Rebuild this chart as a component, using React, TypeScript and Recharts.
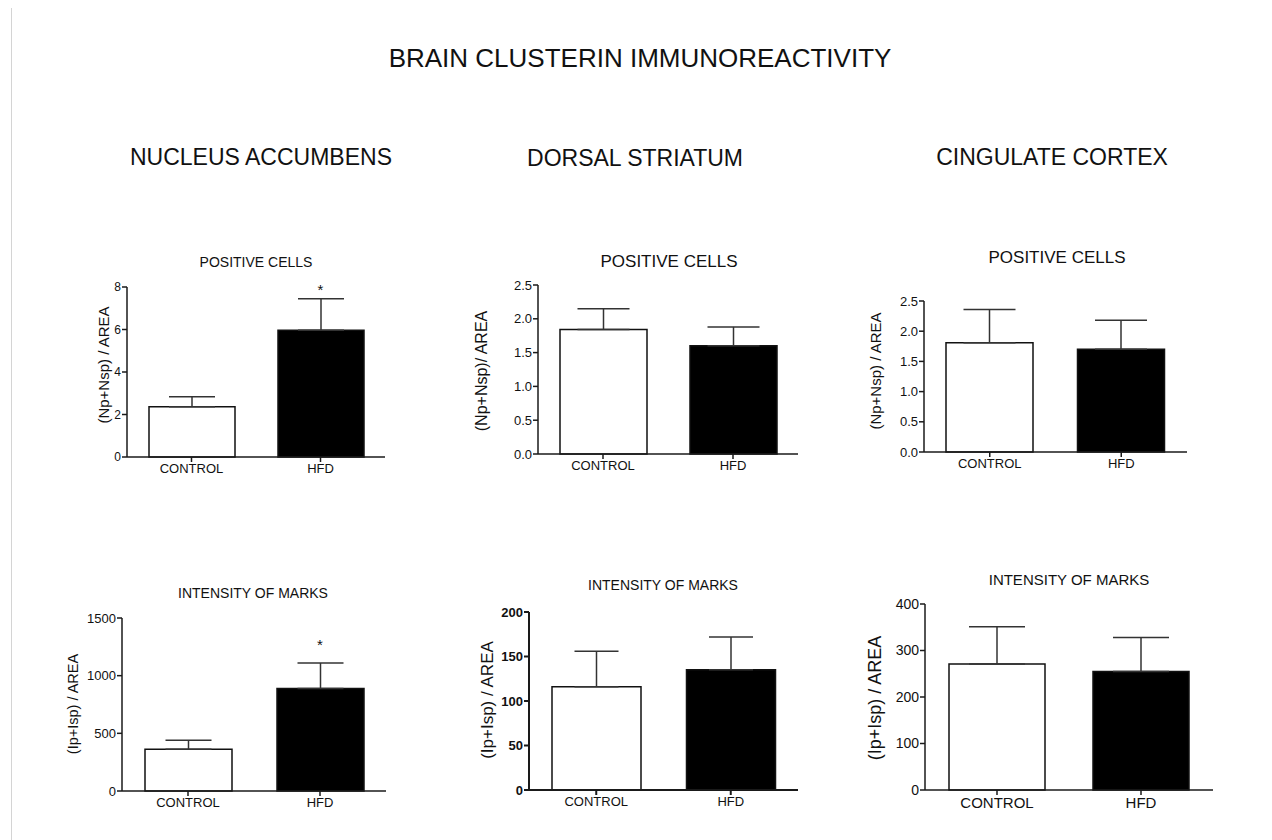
import React from "react";
import { ComposedChart, Bar, Line, XAxis, YAxis, ErrorBar, Cell, LabelList } from "recharts";

const groups = ["CONTROL", "HFD"];
const barFills = ["#ffffff", "#000000"];
const noSig = ["", ""];
const hfdSig = ["", "*"];

// positive cells, (Np+Nsp)/AREA
const nacCellsMean = [2.37, 5.96];
const nacCellsSem = [0.47, 1.49];
const dsCellsMean = [1.84, 1.6];
const dsCellsSem = [0.31, 0.28];
const ccCellsMean = [1.81, 1.7];
const ccCellsSem = [0.55, 0.48];

// intensity of marks, (Ip+Isp)/AREA
const nacIntMean = [361, 889];
const nacIntSem = [78, 221];
const dsIntMean = [116, 135];
const dsIntSem = [40, 37];
const ccIntMean = [271, 255];
const ccIntSem = [80, 73];

const nacCellsTicks = [0, 2, 4, 6, 8];
const halfStepTicks = [0, 0.5, 1, 1.5, 2, 2.5];
const nacIntTicks = [0, 500, 1000, 1500];
const dsIntTicks = [0, 50, 100, 150, 200];
const ccIntTicks = [0, 100, 200, 300, 400];

const FONT = "'Liberation Sans', Arial, Helvetica, sans-serif";

const makeRows = (mean: number[], sem: number[], sig: string[]) =>
  groups.map((g, i) => ({
    group: g,
    mean: mean[i],
    err: [0, sem[i]],
    top: mean[i] + sem[i],
    sig: sig[i],
  }));

const panels = [
  {
    key: "nac-cells", rows: makeRows(nacCellsMean, nacCellsSem, hfdSig), ticks: nacCellsTicks, decimals: 0,
    x0: 127, x1: 385, yTop: 287, yBot: 457, barW: 86, capW: 23,
    title: "POSITIVE CELLS", titleX: 256, titleY: 262, titleSize: 14,
    yLabel: "(Np+Nsp) / AREA", yLabelX: 103, yLabelY: 365, yLabelSize: 15,
    tickSize: 12, xTickSize: 13, bold: false, starGap: 4,
  },
  {
    key: "ds-cells", rows: makeRows(dsCellsMean, dsCellsSem, noSig), ticks: halfStepTicks, decimals: 1,
    x0: 538, x1: 798, yTop: 285, yBot: 454, barW: 87, capW: 26,
    title: "POSITIVE CELLS", titleX: 669, titleY: 261, titleSize: 17,
    yLabel: "(Np+Nsp)/ AREA", yLabelX: 482, yLabelY: 371, yLabelSize: 16,
    tickSize: 13, xTickSize: 13, bold: false, starGap: 4,
  },
  {
    key: "cc-cells", rows: makeRows(ccCellsMean, ccCellsSem, noSig), ticks: halfStepTicks, decimals: 1,
    x0: 924, x1: 1187, yTop: 301, yBot: 452, barW: 87, capW: 26,
    title: "POSITIVE CELLS", titleX: 1057, titleY: 257, titleSize: 17,
    yLabel: "(Np+Nsp) / AREA", yLabelX: 875, yLabelY: 371, yLabelSize: 15,
    tickSize: 13, xTickSize: 13, bold: false, starGap: 4,
  },
  {
    key: "nac-int", rows: makeRows(nacIntMean, nacIntSem, hfdSig), ticks: nacIntTicks, decimals: 0,
    x0: 122, x1: 386, yTop: 618, yBot: 791, barW: 87, capW: 23,
    title: "INTENSITY OF MARKS", titleX: 253, titleY: 593, titleSize: 14,
    yLabel: "(Ip+Isp) / AREA", yLabelX: 73, yLabelY: 704, yLabelSize: 14.5,
    tickSize: 13, xTickSize: 13, bold: false, starGap: 13,
  },
  {
    key: "ds-int", rows: makeRows(dsIntMean, dsIntSem, noSig), ticks: dsIntTicks, decimals: 0,
    x0: 529, x1: 798, yTop: 612, yBot: 790, barW: 89, capW: 22,
    title: "INTENSITY OF MARKS", titleX: 663, titleY: 585, titleSize: 14,
    yLabel: "(Ip+Isp) / AREA", yLabelX: 487, yLabelY: 700, yLabelSize: 17,
    tickSize: 13, xTickSize: 13, bold: true, starGap: 4,
  },
  {
    key: "cc-int", rows: makeRows(ccIntMean, ccIntSem, noSig), ticks: ccIntTicks, decimals: 0,
    x0: 925, x1: 1213, yTop: 604, yBot: 790, barW: 96, capW: 28,
    title: "INTENSITY OF MARKS", titleX: 1069, titleY: 579, titleSize: 15,
    yLabel: "(Ip+Isp) / AREA", yLabelX: 875, yLabelY: 698, yLabelSize: 18,
    tickSize: 14, xTickSize: 15, bold: false, starGap: 4,
  },
];

const headers = [
  { text: "BRAIN CLUSTERIN IMMUNOREACTIVITY", x: 640, y: 58, size: 26 },
  { text: "NUCLEUS ACCUMBENS", x: 261, y: 157, size: 23 },
  { text: "DORSAL STRIATUM", x: 635, y: 158, size: 23 },
  { text: "CINGULATE CORTEX", x: 1052, y: 157, size: 23 },
];

const AXIS_W = 60;
const M_TOP = 12;
const X_AXIS_H = 30;

function CenteredText({ text, x, y, size, rotate }: { text: string; x: number; y: number; size: number; rotate?: boolean }) {
  return (
    <div
      style={{
        position: "absolute",
        left: x,
        top: y,
        transform: `translate(-50%, -50%)${rotate ? " rotate(-90deg)" : ""}`,
        whiteSpace: "nowrap",
        fontFamily: FONT,
        fontSize: size,
        lineHeight: 1,
        color: "#111",
      }}
    >
      {text}
    </div>
  );
}

function Panel({ p }: { p: (typeof panels)[number] }) {
  const plotW = p.x1 - p.x0;
  const plotH = p.yBot - p.yTop;
  const axisStroke = { stroke: "#1a1a1a", strokeWidth: p.bold ? 2 : 1.5 };
  return (
    <>
      <div style={{ position: "absolute", left: p.x0 - AXIS_W, top: p.yTop - M_TOP }}>
        <ComposedChart
          width={AXIS_W + plotW + 10}
          height={M_TOP + plotH + X_AXIS_H}
          data={p.rows}
          margin={{ top: M_TOP, right: 10, left: 0, bottom: 0 }}
        >
          <XAxis
            dataKey="group"
            height={X_AXIS_H}
            interval={0}
            tickSize={5}
            axisLine={axisStroke}
            tickLine={axisStroke}
            tick={{ fontSize: p.xTickSize, fill: "#111", fontFamily: FONT }}
          />
          <YAxis
            width={AXIS_W}
            domain={[0, p.ticks[p.ticks.length - 1]]}
            ticks={p.ticks}
            interval={0}
            tickSize={5}
            tickMargin={1}
            axisLine={axisStroke}
            tickLine={axisStroke}
            tickFormatter={(v: number) => v.toFixed(p.decimals)}
            tick={{ fontSize: p.tickSize, fill: "#111", fontFamily: FONT, fontWeight: p.bold ? "bold" : "normal" }}
          />
          <Bar dataKey="mean" barSize={p.barW} stroke="#111" strokeWidth={1.5} isAnimationActive={false}>
            {p.rows.map((r, i) => (
              <Cell key={r.group} fill={barFills[i]} />
            ))}
            <ErrorBar dataKey="err" width={p.capW} stroke="#333" strokeWidth={1.5} direction="y" />
          </Bar>
          <Line dataKey="top" stroke="none" dot={false} activeDot={false} legendType="none" isAnimationActive={false}>
            <LabelList dataKey="sig" position="top" offset={p.starGap} style={{ fontSize: 15, fill: "#111", fontFamily: FONT }} />
          </Line>
        </ComposedChart>
      </div>
      <CenteredText text={p.title} x={p.titleX} y={p.titleY} size={p.titleSize} />
      <CenteredText text={p.yLabel} x={p.yLabelX} y={p.yLabelY} size={p.yLabelSize} rotate />
    </>
  );
}

export default function App() {
  return (
    <div style={{ position: "absolute", left: 0, top: 0, width: 1272, height: 840, background: "#fff", overflow: "hidden" }}>
      <div style={{ position: "absolute", left: 11, top: 8, width: 1, height: 832, background: "#d4d4d4" }} />
      {headers.map((h) => (
        <CenteredText key={h.text} text={h.text} x={h.x} y={h.y} size={h.size} />
      ))}
      {panels.map((p) => (
        <Panel key={p.key} p={p} />
      ))}
    </div>
  );
}
